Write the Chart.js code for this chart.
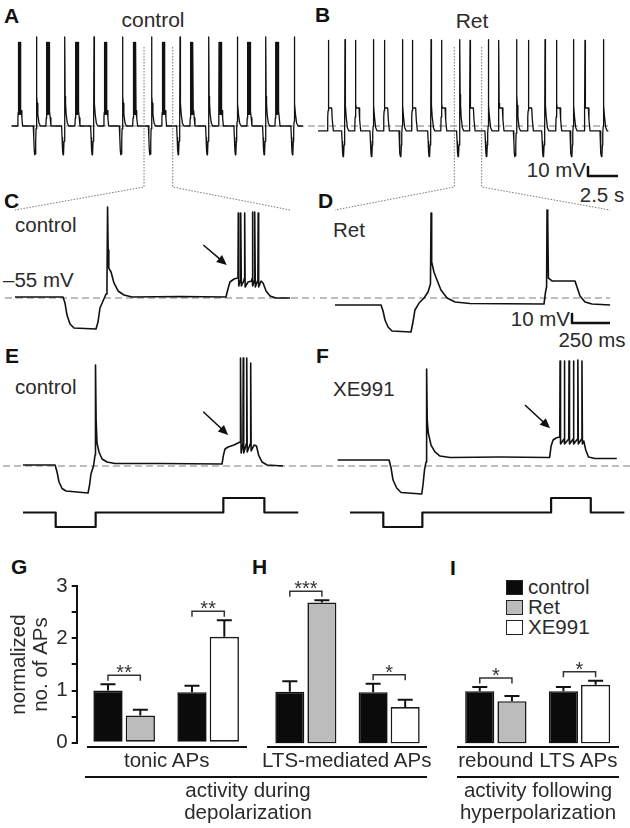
<!DOCTYPE html>
<html>
<head>
<meta charset="utf-8">
<title>Ret and XE991 effects on firing</title>
<script src="https://cdn.jsdelivr.net/npm/chart.js@4.4.1/dist/chart.umd.min.js"></script>
<style>
  html, body { margin: 0; padding: 0; background: #fff; }
  #fig { position: relative; width: 630px; height: 828px; overflow: hidden;
         font-family: "Liberation Sans", Arial, sans-serif; color: #2b2b2b; }
  #fig canvas { position: absolute; }
  .txt { position: absolute; font-size: 20.5px; line-height: 1; white-space: nowrap; }
  .mid { transform: translateX(-50%); text-align: center; }
  .right { transform: translateX(-100%); }
  .letter { position: absolute; font-size: 21px; font-weight: bold; line-height: 1; color: #111; }
  .rule { position: absolute; height: 2.5px; background: #111; }
  .legend { position: absolute; left: 506px; top: 577px; }
  .legend .row { height: 20px; position: relative; width: 110px; }
  .legend .sw { position: absolute; left: 0; top: 3px; width: 15px; height: 13px; border: 1.5px solid #222; }
  .legend .lb { position: absolute; left: 22px; top: 0; font-size: 20.5px; line-height: 1; }
</style>
</head>
<body>
<div id="fig">
  <div class="letter" style="left:4px;top:5px">A</div>
  <div class="txt mid" style="left:153px;top:9px;font-size:21px">control</div>
  <div class="letter" style="left:315px;top:4px">B</div>
  <div class="txt mid" style="left:472px;top:10px;font-size:21px">Ret</div>
  <div class="txt right" style="left:586px;top:160px">10 mV</div>
  <div class="txt mid" style="left:602px;top:185px">2.5 s</div>

  <div class="letter" style="left:4px;top:190px">C</div>
  <div class="txt" style="left:15px;top:215px">control</div>
  <div class="txt" style="left:3px;top:270px">–55 mV</div>
  <div class="letter" style="left:318px;top:190px">D</div>
  <div class="txt" style="left:333px;top:220px">Ret</div>
  <div class="txt right" style="left:570px;top:309px">10 mV</div>
  <div class="txt mid" style="left:592px;top:330px">250 ms</div>

  <div class="letter" style="left:5px;top:345px">E</div>
  <div class="txt" style="left:15px;top:377px">control</div>
  <div class="letter" style="left:316px;top:345px">F</div>
  <div class="txt" style="left:333px;top:379px">XE991</div>

  <div class="letter" style="left:11px;top:556px">G</div>
  <div class="letter" style="left:252px;top:556px">H</div>
  <div class="letter" style="left:450px;top:557px">I</div>
  <div class="legend" id="legend"></div>
</div>
<script>
// ---------- A / B: 25 s recordings, event times in s ----------
const burstA   = [0.83, 3.19, 5.61, 8.0, 10.42, 12.83, 15.19, 17.56, 19.94, 22.28];
const reboundA = [2.22, 4.58, 7.0, 9.39, 11.81, 14.17, 16.58, 18.94, 21.33, 23.69];
const burstB   = [0.86, 3.14, 5.53, 7.86, 10.31, 12.67, 15.08, 17.53, 19.89, 22.25];
const reboundB = [2.25, 4.61, 7.03, 9.42, 11.83, 14.19, 16.56, 18.92, 21.28, 23.78];
// one event each (s relative to the spike, mV)
const burstShapeA = [[-0.2,-55],[-0.17,-46],[-0.15,-40],[-0.14,38],[-0.12,-42],[-0.09,38],[-0.07,-42],[-0.04,38],
  [-0.02,-42],[0.01,38],[0.03,-42],[0.06,38],[0.08,-40],[0.12,-38],[0.16,-46],[0.22,-55]];
const reboundShapeA = [[-0.28,-55],[-0.24,-68],[-0.2,-82],[-0.16,-87],[-0.12,-86],[-0.08,-72],[-0.05,-58],
  [-0.01,-50],[0,44],[0.015,-22],[0.05,-30],[0.1,-42],[0.2,-52],[0.32,-55]];
const plateauShapeB = [[-0.08,-60.5],[-0.05,-45],[-0.02,-38],[0,40],[0.015,-30],[0.05,-35],[0.28,-35],[0.33,-48],[0.42,-60.5]];
const reboundShapeB = [[-0.28,-60.5],[-0.24,-72],[-0.2,-85],[-0.16,-89],[-0.12,-88],[-0.08,-76],[-0.05,-63],
  [-0.01,-55],[0,41],[0.015,-20],[0.05,-32],[0.1,-45],[0.2,-57],[0.32,-60.5]];
const spanA = [0.14, 24.4];
const spanB = [0, 24.2];
const zoomA = [11.17, 13.56];
const zoomB = [11.36, 13.64];

// ---------- C-F: single cycles, [ms, mV] ----------
const traceC = [[0,-53.9],[316,-53.9],[329,-60.6],[342,-73.9],[362,-83.9],[388,-88.3],[533,-89.4],[546,-81.7],
  [559,-66.1],[579,-58.3],[599,-50.6],[605,-41.7],[609,46.1],[613,-1.7],[617,-21.7],[632,-26.1],[651,-38.3],
  [678,-47.2],[717,-51.7],[770,-53.9],[1086,-53.3],[1388,-53.9],[1401,-45],[1414,-37.2],[1441,-33.9],[1464,-32.8],
  [1467,-30],[1469,39.4],[1472,-41.7],[1481,-36],[1484,-33],[1486,39.4],[1489,-41.7],[1505,-36],[1509,-33],
  [1511,39.4],[1514,-42.8],[1533,-37.2],[1557,-36],[1560,-33],[1562,40.6],[1565,-41.7],[1574,-36],[1576,-33],
  [1578,40.6],[1581,-42.8],[1596,-36],[1598,-33],[1600,39.4],[1603,-42.8],[1619,-36.1],[1632,-38.3],[1652,-47.2],
  [1678,-52.8],[1717,-55],[1810,-55]];
const traceD = [[0,-62.8],[303,-62.8],[316,-69.4],[329,-79.4],[349,-87.2],[375,-91.7],[500,-92.8],[513,-81.7],
  [526,-68.3],[553,-60.6],[586,-55],[612,-48.3],[628,-39.4],[632,39.4],[636,-15],[651,-26.1],[671,-35],[697,-46.1],
  [737,-55],[790,-59.4],[888,-61.1],[1375,-61.7],[1385,-48.3],[1392,-42.8],[1395,42.8],[1398,-23.9],[1401,31.7],
  [1404,-32.8],[1428,-36.1],[1579,-36.1],[1592,-42.8],[1612,-52.8],[1645,-59.4],[1691,-61.7],[1810,-62.8]];
const traceE = [[0,-53.9],[211,-53.9],[224,-61.7],[237,-72.8],[257,-80],[283,-82.8],[428,-85],[438,-76.1],
  [447,-63.9],[464,-55],[474,-42.8],[477,57.2],[481,-3.9],[487,-29.4],[500,-39.4],[520,-47.2],[553,-50.6],
  [605,-52.2],[901,-52.2],[1309,-52.8],[1319,-42.8],[1329,-36.1],[1349,-33.9],[1388,-31.7],[1428,-28.3],
  [1430,-26],[1432,65],[1435,-40.6],[1447,-30],[1449,65],[1452,-40.6],[1470,-30],[1472,65],[1475,-39.4],
  [1490,-32.8],[1496,-30],[1498,59.4],[1501,-38.3],[1520,-31.7],[1536,-32.8],[1550,-42.8],[1573,-50.6],
  [1606,-53.9],[1711,-55]];
const traceF = [[0,-48.3],[338,-48.3],[351,-57.2],[364,-70.6],[388,-79.4],[417,-84.4],[553,-86.1],[561,-76.1],
  [571,-59.4],[581,-50.6],[584,-40],[586,52.8],[589,-3.9],[596,-18.3],[614,-31.7],[640,-39.4],[673,-43.9],
  [739,-45.6],[1068,-45],[1394,-45.6],[1404,-32.8],[1417,-26.1],[1437,-23.9],[1458,-22.8],
  [1461,-23],[1463,61.7],[1466,-30.6],[1489,-25],[1491,61.7],[1494,-30.6],[1520,-25],[1522,61.7],[1525,-30.6],
  [1549,-25],[1551,61.7],[1554,-30.6],[1578,-25],[1580,62.8],[1583,-30.6],[1605,-25],[1607,61.7],[1610,-30.6],
  [1619,-27.2],[1632,-37.2],[1650,-45],[1693,-46.7],[1836,-46.7]];
// current steps (relative amplitude)
const stimE = [[0,0],[215,0],[215,-1],[478,-1],[478,0],[1318,0],[1318,1],[1588,1],[1588,0],[1811,0]];
const stimF = [[81,0],[300,0],[300,-1],[557,-1],[557,0],[1404,0],[1404,1],[1665,1],[1665,0],[1886,0]];
const arrowC = [[1239,3.9],[1393,-18.3]];
const arrowE = [[1186,5.3],[1350,-20.6]];
const arrowF = [[1232,12.8],[1397,-13.1]];
const restLevel = -55;
const restA = [0.1, 25.4], restB = [0, 24.17];
const restC = [-66, 1974], restD = [-99, 1810], restE = [-132, 1921], restF = [-149, 1923];
const scaleAB = [10, 2.5];   // mV, s
const scaleCD = [10, 250];   // mV, ms

// ---------- G-I: normalized no. of APs ----------
const seriesNames = ['control', 'Ret', 'XE991'];
const drugOrder = ['Ret', 'XE991'];
const groupNames = ['tonic APs', 'LTS-mediated APs', 'rebound LTS APs'];
const conditionNames = [['activity during', 'depolarization'], ['activity following', 'hyperpolarization']];
const tonicControl = [1.00, 0.97], tonicDrug = [0.52, 2.03];
const tonicControlErr = [0.12, 0.12], tonicDrugErr = [0.11, 0.32];
const ltsControl = [0.98, 0.97], ltsDrug = [2.67, 0.69];
const ltsControlErr = [0.20, 0.16], ltsDrugErr = [0.04, 0.14];
const reboundControl = [0.99, 0.99], reboundDrug = [0.80, 1.11];
const reboundControlErr = [0.08, 0.08], reboundDrugErr = [0.10, 0.08];
const tonicStars = ['**', '**'], ltsStars = ['***', '*'], reboundStars = ['*', '*'];
const yMax = 3;

// ---------- layout ----------
const FONT = '"Liberation Sans", Arial, sans-serif';
const INK = '#111';
const seriesColors = { control: '#0b0b0b', Ret: '#bcbcbc', XE991: '#ffffff' };
const PX_MV = 0.9, PX_S = 12, PX_MS = 0.152, PX_STIM = 14.5;
const fig = document.getElementById('fig');

function axisRange(start, size, anchorPx, anchorVal, ppu, down) {
  if (down) {
    const max = anchorVal + (anchorPx - start) / ppu;
    return { min: max - size / ppu, max };
  }
  const min = anchorVal - (anchorPx - start) / ppu;
  return { min, max: min + size / ppu };
}

function addCanvas(b) {
  const c = document.createElement('canvas');
  c.width = b.w; c.height = b.h;
  c.style.left = b.l + 'px'; c.style.top = b.t + 'px';
  fig.appendChild(c);
  return c;
}

const pts = arr => arr.map(([x, y]) => ({ x, y }));

function line(data, color, width, dash) {
  return { data: pts(data), borderColor: color, borderWidth: width, borderDash: dash || [], clip: false };
}

function restLine(span, level) {
  return line([[span[0], level], [span[1], level]], '#a8a8a8', 1.4, [7, 4]);
}

function buildTrace(span, base, events) {
  const out = [[span[0], base]];
  events.sort((a, b) => a[0] - b[0]).forEach(([t, shape]) => shape.forEach(([dt, v]) => out.push([t + dt, v])));
  out.push([span[1], base]);
  return out;
}

function makeArrow(arrow) {
  return {
    id: 'arrow',
    afterDatasetsDraw(chart) {
      const { x, y } = chart.scales, ctx = chart.ctx;
      const x0 = x.getPixelForValue(arrow[0][0]), y0 = y.getPixelForValue(arrow[0][1]);
      const x1 = x.getPixelForValue(arrow[1][0]), y1 = y.getPixelForValue(arrow[1][1]);
      const a = Math.atan2(y1 - y0, x1 - x0);
      ctx.save();
      ctx.strokeStyle = INK; ctx.fillStyle = INK; ctx.lineWidth = 1.6;
      ctx.beginPath();
      ctx.moveTo(x0, y0); ctx.lineTo(x1 - 7 * Math.cos(a), y1 - 7 * Math.sin(a));
      ctx.stroke();
      ctx.beginPath();
      ctx.moveTo(x1, y1);
      ctx.lineTo(x1 - 10 * Math.cos(a) + 4.5 * Math.sin(a), y1 - 10 * Math.sin(a) - 4.5 * Math.cos(a));
      ctx.lineTo(x1 - 10 * Math.cos(a) - 4.5 * Math.sin(a), y1 - 10 * Math.sin(a) + 4.5 * Math.cos(a));
      ctx.closePath(); ctx.fill();
      ctx.restore();
    }
  };
}

function traceChart(b, xr, yr, datasets, plugins) {
  return new Chart(addCanvas(b), {
    type: 'line',
    data: { datasets },
    options: {
      responsive: false, animation: false, events: [],
      layout: { padding: 0 },
      plugins: { legend: { display: false }, tooltip: { enabled: false } },
      scales: {
        x: { type: 'linear', display: false, min: xr.min, max: xr.max },
        y: { type: 'linear', display: false, min: yr.min, max: yr.max }
      },
      elements: { point: { radius: 0 }, line: { tension: 0, borderJoinStyle: 'round', fill: false } }
    },
    plugins: plugins || []
  });
}

// ---------- A and B ----------
const boxA = { l: 0, t: 30, w: 315, h: 150 }, boxB = { l: 315, t: 30, w: 315, h: 150 };
const xrA = axisRange(boxA.l, boxA.w, 10, 0, PX_S), yrA = axisRange(boxA.t, boxA.h, 126, restLevel, PX_MV, true);
const xrB = axisRange(boxB.l, boxB.w, 318, 0, PX_S), yrB = axisRange(boxB.t, boxB.h, 126, restLevel, PX_MV, true);

const traceA = buildTrace(spanA, -55, [
  ...burstA.map(t => [t, burstShapeA]), ...reboundA.map(t => [t, reboundShapeA])]);
const traceB = buildTrace(spanB, -60.5, [
  ...burstB.map(t => [t, plateauShapeB]), ...reboundB.map(t => [t, reboundShapeB])]);

const chartA = traceChart(boxA, xrA, yrA, [line(traceA, INK, 1.3), restLine(restA, restLevel)]);

const cAB = [xrB.min + (588 - boxB.l) / PX_S, yrB.max - (176 - boxB.t) / PX_MV];
const chartB = traceChart(boxB, xrB, yrB, [
  line(traceB, INK, 1.3), restLine(restB, restLevel),
  line([[cAB[0], cAB[1] + scaleAB[0]], cAB, [cAB[0] + scaleAB[1], cAB[1]]], INK, 2.5)
]);

// ---------- C and D ----------
const boxC = { l: 0, t: 195, w: 315, h: 145 }, boxD = { l: 315, t: 195, w: 315, h: 145 };
const xrC = axisRange(boxC.l, boxC.w, 15, 0, PX_MS), yrC = axisRange(boxC.t, boxC.h, 298, restLevel, PX_MV, true);
const xrD = axisRange(boxD.l, boxD.w, 335, 0, PX_MS), yrD = axisRange(boxD.t, boxD.h, 298, restLevel, PX_MV, true);

const chartC = traceChart(boxC, xrC, yrC, [line(traceC, INK, 1.6), restLine(restC, restLevel)], [makeArrow(arrowC)]);

const cCD = [xrD.min + (572 - boxD.l) / PX_MS, yrD.max - (323 - boxD.t) / PX_MV];
const chartD = traceChart(boxD, xrD, yrD, [
  line(traceD, INK, 1.6), restLine(restD, restLevel),
  line([[cCD[0], cCD[1] + scaleCD[0]], cCD, [cCD[0] + scaleCD[1], cCD[1]]], INK, 2.5)
]);

// ---------- E and F (+ current steps) ----------
const boxE = { l: 0, t: 345, w: 315, h: 160 }, boxF = { l: 315, t: 345, w: 315, h: 160 };
const xrE = axisRange(boxE.l, boxE.w, 23, 0, PX_MS), yrE = axisRange(boxE.t, boxE.h, 466, restLevel, PX_MV, true);
const xrF = axisRange(boxF.l, boxF.w, 337.7, 0, PX_MS), yrF = axisRange(boxF.t, boxF.h, 466, restLevel, PX_MV, true);
traceChart(boxE, xrE, yrE, [line(traceE, INK, 1.6), restLine(restE, restLevel)], [makeArrow(arrowE)]);
traceChart(boxF, xrF, yrF, [line(traceF, INK, 1.6), restLine(restF, restLevel)], [makeArrow(arrowF)]);

const boxSE = { l: 0, t: 490, w: 315, h: 45 }, boxSF = { l: 315, t: 490, w: 315, h: 45 };
const yrS = axisRange(boxSE.t, boxSE.h, 512.5, 0, PX_STIM, true);
traceChart(boxSE, axisRange(boxSE.l, boxSE.w, 23, 0, PX_MS), yrS, [line(stimE, INK, 2.2)]);
traceChart(boxSF, axisRange(boxSF.l, boxSF.w, 337.7, 0, PX_MS), yrS, [line(stimF, INK, 2.2)]);

// ---------- dotted zoom connectors ----------
const ov = addCanvas({ l: 0, t: 0, w: 630, h: 828 });
const g = ov.getContext('2d');
g.strokeStyle = '#777'; g.lineWidth = 1; g.setLineDash([1.5, 1.5]);
function connector(top, topBox, zoom, bottom, bottomBox, trace) {
  const xs = zoom.map(t => topBox.l + top.scales.x.getPixelForValue(t));
  const ends = [trace[0][0], trace[trace.length - 1][0]].map(t => bottomBox.l + bottom.scales.x.getPixelForValue(t));
  [0, 1].forEach(i => {
    g.beginPath(); g.moveTo(xs[i], 47); g.lineTo(xs[i], 187); g.lineTo(ends[i], 210); g.stroke();
  });
}
connector(chartA, boxA, zoomA, chartC, boxC, traceC);
connector(chartB, boxB, zoomB, chartD, boxD, traceD);

// ---------- G, H, I bar charts ----------
function makeErrBars(stars) {
  return {
    id: 'errbars',
    afterDatasetsDraw(chart) {
      const ctx = chart.ctx, y = chart.scales.y;
      const caps = [];
      ctx.save();
      chart.data.datasets.forEach((ds, di) => {
        chart.getDatasetMeta(di).data.forEach((bar, i) => {
          const top = y.getPixelForValue(ds.data[i].y + ds.errors[i]);
          ctx.strokeStyle = INK; ctx.lineWidth = 2;
          ctx.beginPath();
          ctx.moveTo(bar.x, bar.y); ctx.lineTo(bar.x, top);
          ctx.moveTo(bar.x - 7.5, top); ctx.lineTo(bar.x + 7.5, top);
          ctx.stroke();
          (caps[i] = caps[i] || []).push({ x: bar.x, y: top });
        });
      });
      stars.forEach((s, i) => {
        const c = caps[i];
        const yb = Math.min(c[0].y, c[1].y) - 9;
        ctx.strokeStyle = '#333'; ctx.lineWidth = 1.5;
        ctx.beginPath();
        ctx.moveTo(c[0].x, yb + 5.5); ctx.lineTo(c[0].x, yb); ctx.lineTo(c[1].x, yb); ctx.lineTo(c[1].x, yb + 5.5);
        ctx.stroke();
        ctx.fillStyle = '#333'; ctx.font = '20px ' + FONT;
        ctx.textAlign = 'center'; ctx.textBaseline = 'alphabetic';
        ctx.fillText(s, (c[0].x + c[1].x) / 2, yb + 4);
      });
      ctx.restore();
    }
  };
}

function barChart(b, centers, control, drug, controlErr, drugErr, stars, withAxis) {
  const axisW = withAxis ? 76.7 : 0;
  const ppu = centers[1] - centers[0];
  const xmin = 1 - (centers[0] - b.l - axisW) / ppu;
  const xmax = xmin + (b.w - axisW) / ppu;
  const yAxis = withAxis ? {
    min: 0, max: yMax, display: true,
    afterFit: s => { s.width = axisW; },
    border: { display: true, color: INK, width: 2 },
    grid: { drawOnChartArea: false, drawTicks: true, tickLength: 5, color: INK, lineWidth: 2 },
    ticks: { stepSize: 0.5, autoSkip: false, padding: 4, color: '#2b2b2b', font: { family: FONT, size: 20.5 },
             callback: v => Number.isInteger(v) ? v : '' },
    title: { display: true, text: ['normalized', 'no. of APs'], color: '#2b2b2b',
             font: { family: FONT, size: 20.5, lineHeight: 1.05 }, padding: { top: 9, bottom: 0 } }
  } : { min: 0, max: yMax, display: false };
  return new Chart(addCanvas(b), {
    type: 'bar',
    data: {
      datasets: [
        { label: 'control', data: control.map((v, i) => ({ x: i + 1, y: v })), errors: controlErr,
          backgroundColor: seriesColors.control, borderColor: INK },
        { label: drugOrder.join('/'), data: drug.map((v, i) => ({ x: i + 1, y: v })), errors: drugErr,
          backgroundColor: drugOrder.map(d => seriesColors[d]), borderColor: '#1a1a1a' }
      ]
    },
    options: {
      responsive: false, animation: false, events: [],
      layout: { padding: { top: 15, bottom: 15.5, left: 0, right: 0 } },
      datasets: { bar: { categoryPercentage: 0.77, barPercentage: 0.905, borderWidth: 1.6, borderSkipped: false } },
      plugins: { legend: { display: false }, tooltip: { enabled: false } },
      scales: {
        x: { type: 'linear', display: false, min: xmin, max: xmax, afterBuildTicks: a => { a.ticks = []; } },
        y: yAxis
      }
    },
    plugins: [makeErrBars(stars)]
  });
}

barChart({ l: 0, t: 570, w: 250, h: 189 }, [124.15, 208.15],
  tonicControl, tonicDrug, tonicControlErr, tonicDrugErr, tonicStars, true);
barChart({ l: 240, t: 570, w: 200, h: 189 }, [305.85, 389.15],
  ltsControl, ltsDrug, ltsControlErr, ltsDrugErr, ltsStars, false);
barChart({ l: 440, t: 570, w: 190, h: 189 }, [495.85, 579.5],
  reboundControl, reboundDrug, reboundControlErr, reboundDrugErr, reboundStars, false);

// legend
const legend = document.getElementById('legend');
seriesNames.forEach(n => {
  const row = document.createElement('div');
  row.className = 'row';
  row.innerHTML = '<span class="sw" style="background:' + seriesColors[n] + '"></span><span class="lb">' + n + '</span>';
  legend.appendChild(row);
});

// group rules and labels under the bars
function addRule(x0, x1, y) {
  const d = document.createElement('div');
  d.className = 'rule';
  d.style.left = x0 + 'px'; d.style.width = (x1 - x0) + 'px'; d.style.top = y + 'px';
  fig.appendChild(d);
}
function addText(text, cx, top) {
  const d = document.createElement('div');
  d.className = 'txt mid';
  d.style.left = cx + 'px'; d.style.top = top + 'px';
  d.textContent = text;
  fig.appendChild(d);
}
const groupSpans = [[86.7, 246.7], [266.7, 426.7], [456.7, 619]];
groupNames.forEach((n, i) => {
  addRule(groupSpans[i][0], groupSpans[i][1], 745.5);
  addText(n, (groupSpans[i][0] + groupSpans[i][1]) / 2, 750);
});
const condSpans = [[85, 426.7], [456.7, 619]];
const condCenters = [248, 538];
conditionNames.forEach((lines, i) => {
  addRule(condSpans[i][0], condSpans[i][1], 775.5);
  addText(lines[0], condCenters[i], 780);
  addText(lines[1], condCenters[i], 801.5);
});
</script>
</body>
</html>
